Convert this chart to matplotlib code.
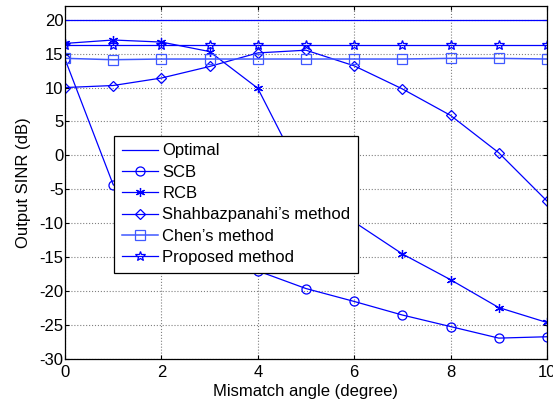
import matplotlib

matplotlib.use("Agg")
import matplotlib.pyplot as plt
import numpy as np

angle = np.arange(0, 11)
optimal = [20] * 11
scb = [14.2, -4.3, -9.5, -13.5, -17.0, -19.6, -21.5, -23.5, -25.2, -26.9, -26.7]
rcb = [16.5, 17.0, 16.7, 15.3, 9.9, -4.0, -9.8, -14.5, -18.3, -22.4, -24.6]
shahb = [10.0, 10.3, 11.4, 13.1, 15.1, 15.5, 13.2, 9.8, 5.9, 0.4, -6.7]
chen = [14.3, 14.1, 14.2, 14.2, 14.2, 14.2, 14.2, 14.2, 14.3, 14.3, 14.2]
proposed = [16.2] * 11

plt.rcParams["font.family"] = ["Liberation Sans", "DejaVu Sans"]
plt.rcParams["axes.unicode_minus"] = False

fig = plt.figure(figsize=(5.53, 4.04), dpi=100)
ax = fig.add_axes([0.1175, 0.111, 0.8715, 0.874])

blue = (0, 0, 1)
ms = 6.5
ax.plot(angle, optimal, color=blue, lw=0.9, label="Optimal")
ax.plot(angle, scb, color=blue, lw=0.9, marker="o", ms=ms, mfc="none", mew=0.9, label="SCB")
ax.plot(angle, rcb, color=blue, lw=0.9, marker=(6, 2, 0), ms=ms, mew=0.9, label="RCB")
ax.plot(angle, shahb, color=blue, lw=0.9, marker="D", ms=5.5, mfc="none", mew=0.9,
        label="Shahbazpanahi\u2019s method")
ax.plot(angle, chen, color=(0.25, 0.35, 1), lw=1.1, marker="s", ms=ms, mfc="none", mew=0.9,
        label="Chen\u2019s method")
ax.plot(angle, proposed, color=blue, lw=0.9, marker="*", ms=7.5, mfc="none", mew=0.9,
        label="Proposed method")

ax.set_xlim(0, 10)
ax.set_ylim(-30, 22)
ax.set_xticks(range(0, 11, 2))
ax.set_yticks(range(-30, 21, 5))
ax.tick_params(direction="in", top=True, right=True, labelsize=12, length=3, pad=1)
ax.tick_params(axis="x", pad=4)
ax.grid(True, color="gray", linestyle=":", linewidth=0.8)
for s in ax.spines.values():
    s.set_linewidth(0.9)
ax.set_xlabel("Mismatch angle (degree)", fontsize=12, labelpad=3)
ax.set_ylabel("Output SINR (dB)", fontsize=12, labelpad=6)

leg = ax.legend(loc="upper left", bbox_to_anchor=(0.102, 0.632), fontsize=12, frameon=True,
                fancybox=False, edgecolor="black", framealpha=1, borderpad=0.45,
                labelspacing=0.38, handlelength=2.2, handletextpad=0.25, borderaxespad=0)
leg.get_frame().set_linewidth(0.9)

fig.savefig("out.png", dpi=100)
